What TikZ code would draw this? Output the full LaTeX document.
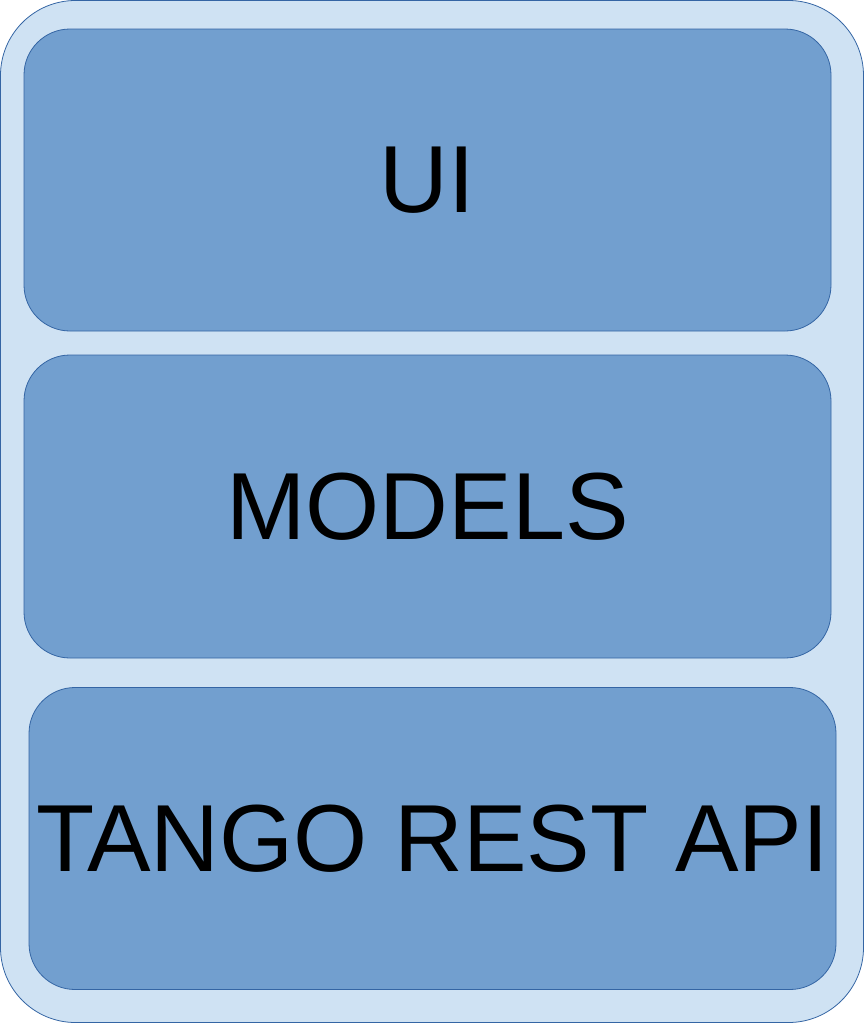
\documentclass[tikz,border=0pt]{standalone}
\usepackage{fontspec}
\setmainfont{Liberation Sans}
\usepackage{tikz}
\usetikzlibrary{positioning}
\definecolor{panelfill}{HTML}{CFE2F3}
\definecolor{layerfill}{HTML}{729FCF}
\definecolor{layerline}{HTML}{3465A4}
\tikzset{
    layer/.style = {draw=layerline, fill=layerfill, line width=0.8pt, rounded corners=46pt,
        minimum width=807pt, minimum height=302pt, inner sep=0pt,
        font=\fontsize{95.3}{96}\selectfont},
}

\begin{document}
\begin{tikzpicture}[x=1pt, y=-1pt]
            \useasboundingbox (0, 0) rectangle (864, 1023);
            \draw[layerline, fill=panelfill, line width=0.8pt, rounded corners=75pt] (0.5, 0.5) rectangle (863.5, 1022.5);

            \node[layer] (ui) at (427.5, 180) {UI};
            \node[layer, minimum height=303pt] (models) at (427.5, 506.5) {MODELS};
            \node[layer] (api) at (432.5, 838.5) {TANGO REST API};
        \end{tikzpicture}
\end{document}
